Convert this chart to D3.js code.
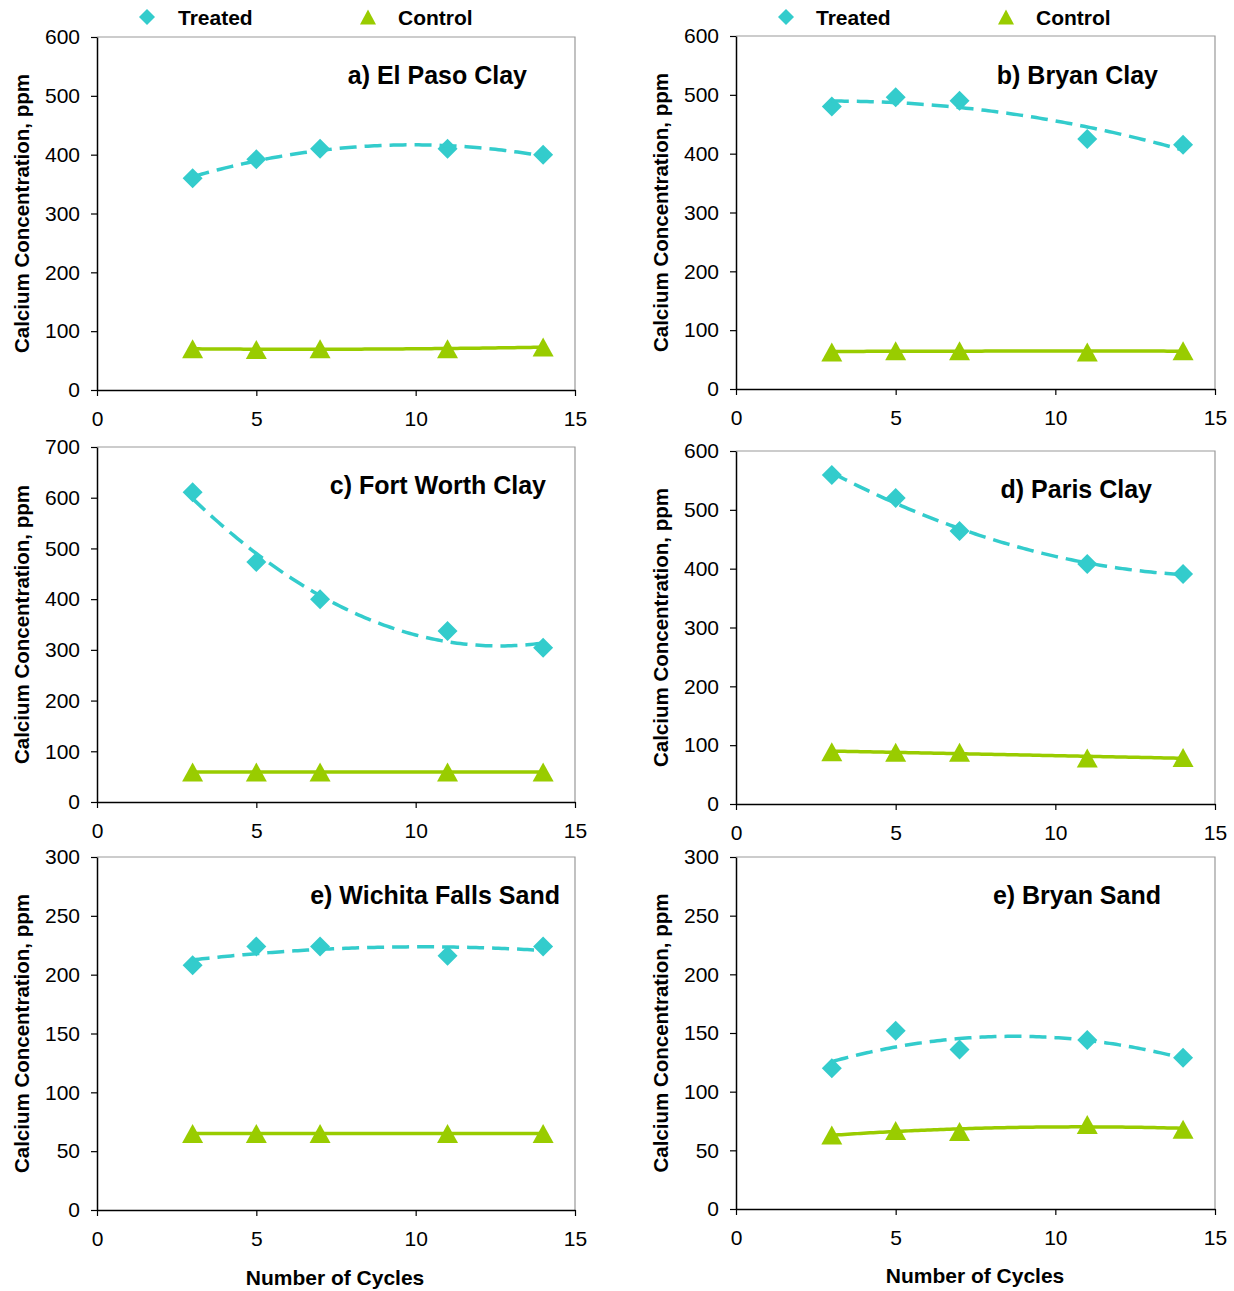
<!DOCTYPE html>
<html>
<head>
<meta charset="utf-8">
<script src="https://cdn.jsdelivr.net/npm/d3@7"></script>
<style>
  html, body { margin: 0; padding: 0; background: #fff; }
  svg { display: block; font-family: "Liberation Sans", Arial, sans-serif; }
</style>
</head>
<body>
<svg id="chart" width="1234" height="1291"></svg>
<script>
// ---------------- data ----------------
const cycles = [3, 5, 7, 11, 14];
const xTicks = [0, 5, 10, 15];

const panelTitles = ["a) El Paso Clay", "b) Bryan Clay", "c) Fort Worth Clay",
                     "d) Paris Clay", "e) Wichita Falls Sand", "e) Bryan Sand"];

const treatedElPaso   = [360, 392, 410, 410, 400];
const controlElPaso   = [70, 69, 70, 70, 73];
const treatedBryanClay = [480, 496, 490, 425, 415];
const controlBryanClay = [63, 65, 65, 63, 65];
const treatedFortWorth = [611, 473, 400, 337, 304];
const controlFortWorth = [59, 59, 59, 59, 59];
const treatedParis    = [559, 520, 464, 408, 391];
const controlParis    = [89, 88, 88, 78, 79];
const treatedWichita  = [208, 224, 224, 216, 224];
const controlWichita  = [65, 65, 65, 65, 65];
const treatedBryanSand = [120, 152, 136, 144, 129];
const controlBryanSand = [63, 67, 66, 72, 68];

const yMaxes = [600, 600, 700, 600, 300, 300];
const ySteps = [100, 100, 100, 100, 50, 50];

const legendLabels = ["Treated", "Control"];
const yTitle = "Calcium Concentration, ppm";
const xTitle = "Number of Cycles";

// ---------------- layout ----------------
const TEAL = "#33CCCC", GREEN = "#99CC00";
const treatedSets = [treatedElPaso, treatedBryanClay, treatedFortWorth, treatedParis, treatedWichita, treatedBryanSand];
const controlSets = [controlElPaso, controlBryanClay, controlFortWorth, controlParis, controlWichita, controlBryanSand];

const frames = [
  {L: 97,  R: 575,  T: 37,  B: 390, titleX: 527,  titleY: 84,  ytx: 21},
  {L: 736, R: 1215, T: 36,  B: 389, titleX: 1158, titleY: 84,  ytx: 660},
  {L: 97,  R: 575,  T: 447, B: 802, titleX: 546,  titleY: 494, ytx: 21},
  {L: 736, R: 1215, T: 451, B: 804, titleX: 1152, titleY: 498, ytx: 660},
  {L: 97,  R: 575,  T: 857, B: 1210, titleX: 560, titleY: 904, ytx: 21},
  {L: 736, R: 1215, T: 857, B: 1209, titleX: 1161, titleY: 904, ytx: 660}
];

const svg = d3.select("#chart");

// quadratic least-squares trendline (as in the original spreadsheet trendlines)
function quadFit(xs, ys) {
  let n = xs.length, s = [0,0,0,0,0], t = [0,0,0];
  for (let i = 0; i < n; i++) {
    const x = xs[i], y = ys[i];
    for (let k = 0; k < 5; k++) s[k] += Math.pow(x, k);
    for (let k = 0; k < 3; k++) t[k] += y * Math.pow(x, k);
  }
  const A = [[s[0], s[1], s[2], t[0]], [s[1], s[2], s[3], t[1]], [s[2], s[3], s[4], t[2]]];
  for (let i = 0; i < 3; i++) {
    let p = i;
    for (let r = i + 1; r < 3; r++) if (Math.abs(A[r][i]) > Math.abs(A[p][i])) p = r;
    [A[i], A[p]] = [A[p], A[i]];
    for (let r = 0; r < 3; r++) {
      if (r === i) continue;
      const f = A[r][i] / A[i][i];
      for (let c = i; c < 4; c++) A[r][c] -= f * A[i][c];
    }
  }
  const c = A.map((row, i) => row[3] / row[i]);
  return x => c[0] + c[1] * x + c[2] * x * x;
}

function triPath(cx, cy, w, h) {
  return `M${cx},${cy - h/2}L${cx + w/2},${cy + h/2}L${cx - w/2},${cy + h/2}Z`;
}
function diaPath(cx, cy, r) {
  return `M${cx},${cy - r}L${cx + r},${cy}L${cx},${cy + r}L${cx - r},${cy}Z`;
}

frames.forEach((f, i) => {
  const g = svg.append("g");
  const x = d3.scaleLinear().domain([0, 15]).range([f.L, f.R]);
  const y = d3.scaleLinear().domain([0, yMaxes[i]]).range([f.B, f.T]);

  // top / right border (gray)
  g.append("path")
    .attr("d", `M${f.L},${f.T}H${f.R}V${f.B}`)
    .attr("fill", "none").attr("stroke", "#999").attr("stroke-width", 1.2);

  const yAxis = d3.axisLeft(y).tickValues(d3.range(0, yMaxes[i] + 1, ySteps[i]))
    .tickSize(6).tickSizeOuter(0).tickPadding(11);
  const xAxis = d3.axisBottom(x).tickValues(xTicks).tickSize(6).tickSizeOuter(0).tickPadding(15);

  const ya = g.append("g").attr("transform", `translate(${f.L},0)`).call(yAxis);
  const xa = g.append("g").attr("transform", `translate(0,${f.B})`).call(xAxis);
  [ya, xa].forEach(a => {
    a.select(".domain").attr("stroke", "#000").attr("stroke-width", 1.5);
    a.selectAll(".tick line").attr("stroke", "#000").attr("stroke-width", 1.2);
    a.selectAll("text").attr("font-size", 21).attr("fill", "#000")
      .attr("font-family", "Liberation Sans, Arial, sans-serif");
  });

  // y title
  g.append("text")
    .attr("transform", `translate(${f.ytx},${(f.T + f.B) / 2}) rotate(-90)`)
    .attr("text-anchor", "middle").attr("dominant-baseline", "central")
    .attr("font-size", 20.5).attr("font-weight", "bold").text(yTitle);

  // panel title
  g.append("text").attr("x", f.titleX).attr("y", f.titleY)
    .attr("text-anchor", "end").attr("font-size", 25).attr("font-weight", "bold")
    .text(panelTitles[i]);

  const tr = treatedSets[i], co = controlSets[i];

  // markers
  g.selectAll(".tri").data(co).enter().append("path")
    .attr("d", (d, j) => triPath(x(cycles[j]), y(d), 21, 19))
    .attr("fill", GREEN);
  g.selectAll(".dia").data(tr).enter().append("path")
    .attr("d", (d, j) => diaPath(x(cycles[j]), y(d), 10))
    .attr("fill", TEAL);

  // trendlines
  const xs = d3.range(cycles[0], cycles[cycles.length - 1] + 0.001, 0.1);
  const ft = quadFit(cycles, tr), fc = quadFit(cycles, co);
  const line = d3.line().x(d => x(d[0])).y(d => y(d[1]));
  g.append("path").attr("d", line(xs.map(v => [v, fc(v)])))
    .attr("fill", "none").attr("stroke", GREEN).attr("stroke-width", 3.5);
  g.append("path").attr("d", line(xs.map(v => [v, ft(v)])))
    .attr("fill", "none").attr("stroke", TEAL).attr("stroke-width", 3.5)
    .attr("stroke-dasharray", "17,8");
});

// legends (top row)
[[147, 368, 178, 398], [786, 1006, 816, 1036]].forEach(p => {
  const ly = 17;
  svg.append("path").attr("d", diaPath(p[0], ly, 8)).attr("fill", TEAL);
  svg.append("path").attr("d", triPath(p[1], ly, 16, 15)).attr("fill", GREEN);
  svg.append("text").attr("x", p[2]).attr("y", ly).attr("dominant-baseline", "central")
    .attr("font-size", 21).attr("font-weight", "bold").text(legendLabels[0]);
  svg.append("text").attr("x", p[3]).attr("y", ly).attr("dominant-baseline", "central")
    .attr("font-size", 21).attr("font-weight", "bold").text(legendLabels[1]);
});

// x titles (bottom row)
[[335, 1277], [975, 1275]].forEach(p => {
  svg.append("text").attr("x", p[0]).attr("y", p[1]).attr("text-anchor", "middle")
    .attr("dominant-baseline", "central").attr("font-size", 21).attr("font-weight", "bold")
    .text(xTitle);
});
</script>
</body>
</html>
